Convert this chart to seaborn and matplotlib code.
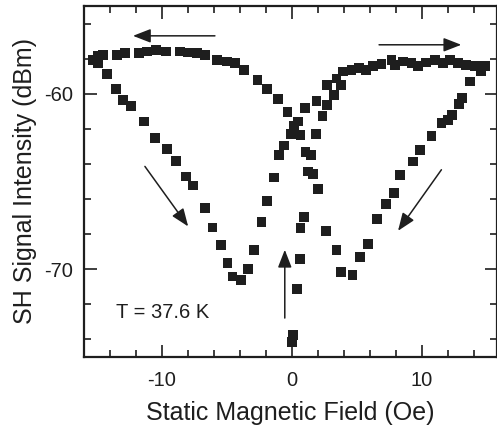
import matplotlib
matplotlib.use("Agg")
import matplotlib.pyplot as plt
from matplotlib.ticker import MultipleLocator
import seaborn as sns
import pandas as pd

# ---- data (field in Oe, SH signal in dBm) ----
# sweep with increasing field: left dip, rise through zero, upper-right plateau
field_up = [-14.9, -14.21, -13.54, -13.02, -12.41, -11.38, -10.54, -9.59, -8.92, -8.12,
            -7.59, -6.69, -6.10, -5.48, -4.95, -4.56, -3.92, -3.36, -2.90, -2.33,
            -1.90, -1.38, -0.98, -0.59, -0.08, 1.00, 1.90, 2.72, 3.44, 3.95,
            4.59, 5.18, 5.69, 6.25, 6.90, 7.67, 7.92, 8.56, 9.21, 9.72,
            10.36, 11.00, 11.64, 12.15, 12.79, 13.44, 14.08, 14.59, 14.85]
signal_up = [-58.25, -58.86, -59.73, -60.34, -60.68, -61.58, -62.52, -63.15, -63.82, -64.71,
             -65.23, -66.51, -67.62, -68.60, -69.65, -70.41, -70.60, -69.99, -68.89, -67.33,
             -66.10, -64.77, -63.49, -62.95, -62.30, -60.81, -60.40, -59.52, -59.13, -58.73,
             -58.67, -58.54, -58.63, -58.44, -58.29, -58.06, -58.35, -58.16, -58.25, -58.40,
             -58.22, -58.10, -58.25, -58.06, -58.25, -58.35, -58.44, -58.54, -58.44]

# sweep with decreasing field: right dip, rise through zero, upper-left plateau
field_down = [14.59, 13.69, 13.13, 12.87, 12.36, 12.02, 11.52, 10.75, 9.90, 9.33,
              8.36, 7.87, 7.28, 6.56, 5.87, 5.23, 4.67, 3.77, 3.44, 2.62,
              2.02, 1.64, 1.25, 1.46, 1.05, 0.67, 0.48, 0.15, -0.33, -1.05,
              -1.90, -2.64, -3.69, -4.38, -5.02, -5.79, -6.69, -7.33, -7.98, -8.62,
              -9.69, -10.46, -11.18, -11.75, -12.85, -13.48, -14.52, -14.90, -15.28]
signal_down = [-58.73, -59.30, -60.25, -60.59, -61.20, -61.48, -61.67, -62.43, -63.19, -63.86,
               -64.64, -65.66, -66.27, -67.12, -68.55, -69.30, -70.35, -70.18, -68.89, -67.81,
               -65.44, -64.58, -64.43, -63.48, -63.34, -62.34, -61.58, -61.82, -61.04, -60.30,
               -59.73, -59.20, -58.63, -58.25, -58.16, -58.08, -57.78, -57.68, -57.65, -57.59,
               -57.59, -57.53, -57.59, -57.68, -57.68, -57.78, -57.78, -57.87, -58.06]

# sharp dip near zero field and recovery branch
field_zero = [0.00, 0.08, 0.41, 0.62, 0.67, 0.92, 1.85, 2.36, 2.72, 3.23, 3.77]
signal_zero = [-74.13, -73.73, -71.11, -69.40, -67.65, -67.03, -62.30, -61.29, -60.64, -60.06, -59.49]

x_ticks = [-10, 0, 10]
y_ticks = [-70, -60]
temperature_label = "T = 37.6 K"

df = pd.concat([
    pd.DataFrame({"field": field_up, "signal": signal_up, "sweep": "up"}),
    pd.DataFrame({"field": field_down, "signal": signal_down, "sweep": "down"}),
    pd.DataFrame({"field": field_zero, "signal": signal_zero, "sweep": "zero"}),
], ignore_index=True)

sns.set_style("ticks")
plt.rcParams["font.family"] = ["Liberation Sans", "DejaVu Sans"]
plt.rcParams["axes.unicode_minus"] = False

ink = "#1e1e1e"
fig = plt.figure(figsize=(4.97, 4.37), dpi=100)
ax = fig.add_axes([84 / 497, 80 / 437, 1 - 84 / 497, 351 / 437])

sns.scatterplot(data=df, x="field", y="signal", marker="s", s=50, color=ink,
                edgecolor="none", linewidth=0, legend=False, ax=ax)

ax.set_xlim(-16, 15.8)
ax.set_ylim(-75, -55)
ax.set_xticks(x_ticks)
ax.set_yticks(y_ticks)
ax.xaxis.set_minor_locator(MultipleLocator(2))
ax.yaxis.set_minor_locator(MultipleLocator(2))
ax.tick_params(which="both", direction="in", top=True, right=True, color=ink, width=1.2)
ax.tick_params(which="major", length=9, labelsize=14.5, labelcolor=ink)
ax.tick_params(axis="x", which="major", pad=10)
ax.tick_params(axis="y", which="major", pad=8)
ax.tick_params(which="minor", length=5)
for sp in ax.spines.values():
    sp.set_linewidth(1.6)
    sp.set_color(ink)

ax.set_xlabel("Static Magnetic Field (Oe)", fontsize=18, color=ink, labelpad=8)
ax.set_ylabel("SH Signal Intensity (dBm)", fontsize=18, color=ink, labelpad=5)

arrow_kw = dict(arrowstyle="-|>,head_length=0.9,head_width=0.35", color=ink, lw=1.1,
                shrinkA=0, shrinkB=0, mutation_scale=12)
ax.annotate("", xy=(-12.23, -56.70), xytext=(-5.92, -56.70), arrowprops=arrow_kw)
ax.annotate("", xy=(13.05, -57.21), xytext=(6.72, -57.21), arrowprops=arrow_kw)
ax.annotate("", xy=(-7.98, -67.56), xytext=(-11.31, -64.14), arrowprops=arrow_kw)
ax.annotate("", xy=(8.18, -67.81), xytext=(11.52, -64.33), arrowprops=arrow_kw)
ax.annotate("", xy=(-0.54, -68.89), xytext=(-0.54, -72.78), arrowprops=arrow_kw)

ax.text(-13.5, -72.45, temperature_label, fontsize=14.5, color=ink, va="center", ha="left")

fig.savefig("out.png", dpi=100)
